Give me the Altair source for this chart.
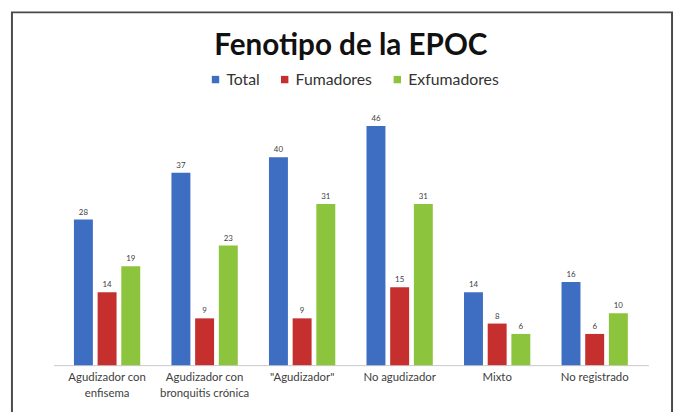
import altair as alt
import pandas as pd

categories = ["Agudizador con|enfisema", "Agudizador con|bronquitis crónica", "\"Agudizador\"",
              "No agudizador", "Mixto", "No registrado"]
series = ["Total", "Fumadores", "Exfumadores"]
total = [28, 37, 40, 46, 14, 16]
fumadores = [14, 9, 9, 15, 8, 6]
exfumadores = [19, 23, 31, 31, 6, 10]
colors = ["#3E6EC2", "#C5302E", "#8CC43D"]

rows = []
for i, c in enumerate(categories):
    for s, vals in zip(series, [total, fumadores, exfumadores]):
        rows.append({"cat": c, "serie": s, "val": vals[i]})
df = pd.DataFrame(rows)

FONT = "Lato"

x = alt.X("cat:N", sort=categories, title=None,
          scale=alt.Scale(paddingInner=0.32, paddingOuter=0.21),
          axis=alt.Axis(labelExpr="split(datum.label, '|')", labelAngle=0, ticks=False,
                        domainColor="#c8c8c8", labelColor="#404040", labelFontSize=11.5,
                        labelFont=FONT, labelPadding=7, labelLineHeight=16))
xo = alt.XOffset("serie:N", sort=series, scale=alt.Scale(paddingInner=0.2))
y = alt.Y("val:Q", scale=alt.Scale(domain=[0, 46], nice=False), axis=None)
color = alt.Color("serie:N", sort=series, scale=alt.Scale(domain=series, range=colors),
                  legend=alt.Legend(title=None, orient="none", legendX=156, legendY=-55,
                                    direction="horizontal", symbolType="square", symbolSize=56,
                                    symbolStrokeWidth=0, labelFontSize=16, labelFont=FONT,
                                    labelColor="#333333", columnPadding=17, labelOffset=3))

base = alt.Chart(df)
bars = base.mark_bar().encode(x=x, xOffset=xo, y=y, color=color)
labels = base.mark_text(dy=-7, fontSize=8, color="#404040", font=FONT).encode(
    x=x, xOffset=xo, y=y, text="val:Q")

frame = alt.Chart(pd.DataFrame({"a": [0]})).mark_rect(
    fill="transparent", stroke="#4a4a4a", strokeWidth=2).encode(
    x=alt.value(-42), x2=alt.value(626), y=alt.value(-115), y2=alt.value(400))

chart = alt.layer(bars, labels, frame).properties(
    width=602, height=242,
    title=alt.TitleParams("Fenotipo de la EPOC", fontSize=30, font=FONT, fontWeight="bold",
                          color="#111111", anchor="middle", offset=-50),
    autosize=alt.AutoSizeParams(type="none"),
    padding={"left": 46, "top": 117, "right": 27, "bottom": 45},
    background="white",
).configure_view(stroke="transparent", strokeWidth=0)

chart.save("out.html", embed_options={"renderer": "svg", "actions": False})
